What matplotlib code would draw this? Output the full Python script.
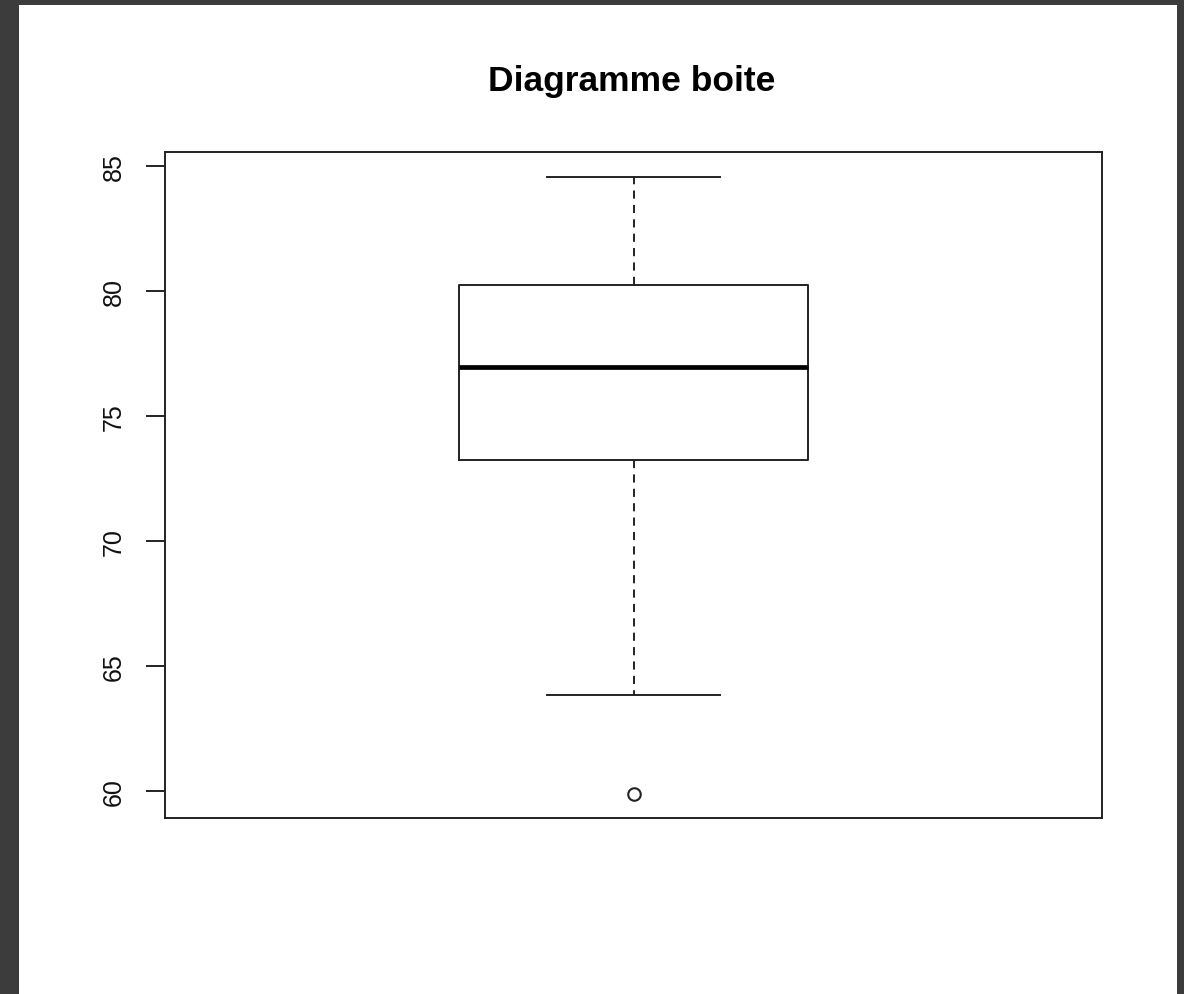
import matplotlib
matplotlib.use("Agg")
import matplotlib.pyplot as plt
from matplotlib.patches import Rectangle

# five-number summary
whisker_low = 63.85
q1 = 73.25
median = 76.95
q3 = 80.25
whisker_high = 84.55
outliers = [59.9]
yticks = [60, 65, 70, 75, 80, 85]

plt.rcParams['font.family'] = ['Liberation Sans', 'DejaVu Sans']

fig = plt.figure(figsize=(11.84, 9.95), dpi=100)
fig.patch.set_facecolor('#3c3c3c')
# white page inside the dark frame
fig.patches.append(Rectangle((19 / 1184, 0), (1177 - 19) / 1184, (995 - 6) / 995,
                             transform=fig.transFigure, facecolor='white',
                             edgecolor='none', zorder=-10))

ax = fig.add_axes([165 / 1184, 1 - 819 / 995, (1102 - 165) / 1184, (819 - 153) / 995])
ax.set_zorder(5)
ax.set_facecolor('white')

ink = '#222222'
stats = [{'whislo': whisker_low, 'q1': q1, 'med': median, 'q3': q3,
          'whishi': whisker_high, 'fliers': outliers}]
ax.bxp(stats, positions=[1], widths=0.402, showfliers=True, capwidths=0.2,
       boxprops=dict(color=ink, linewidth=1.4),
       medianprops=dict(color='black', linewidth=3.4, solid_capstyle='butt'),
       whiskerprops=dict(color=ink, linewidth=1.4, linestyle=(0, (4.2, 3.2))),
       capprops=dict(color=ink, linewidth=1.4),
       flierprops=dict(marker='o', markerfacecolor='none', markeredgecolor=ink,
                       markersize=9, markeredgewidth=1.5))

ax.set_xlim(0.46, 1.54)
ax.set_ylim(58.92, 85.56)
ax.set_xticks([])
ax.set_yticks(yticks)
ax.set_yticklabels([str(v) for v in yticks], rotation=90, va='center')
ax.tick_params(axis='y', length=13.5, width=1.4, pad=15, labelsize=18, color=ink,
               labelcolor='#111111')
for s in ax.spines.values():
    s.set_linewidth(1.4)
    s.set_color(ink)

fig.text((484 + 779) / 2 / 1184, 1 - 81 / 995, "Diagramme boite", ha='center', va='center',
         fontsize=25.5, fontweight='bold')

fig.savefig('out.png', dpi=100, facecolor=fig.get_facecolor())
